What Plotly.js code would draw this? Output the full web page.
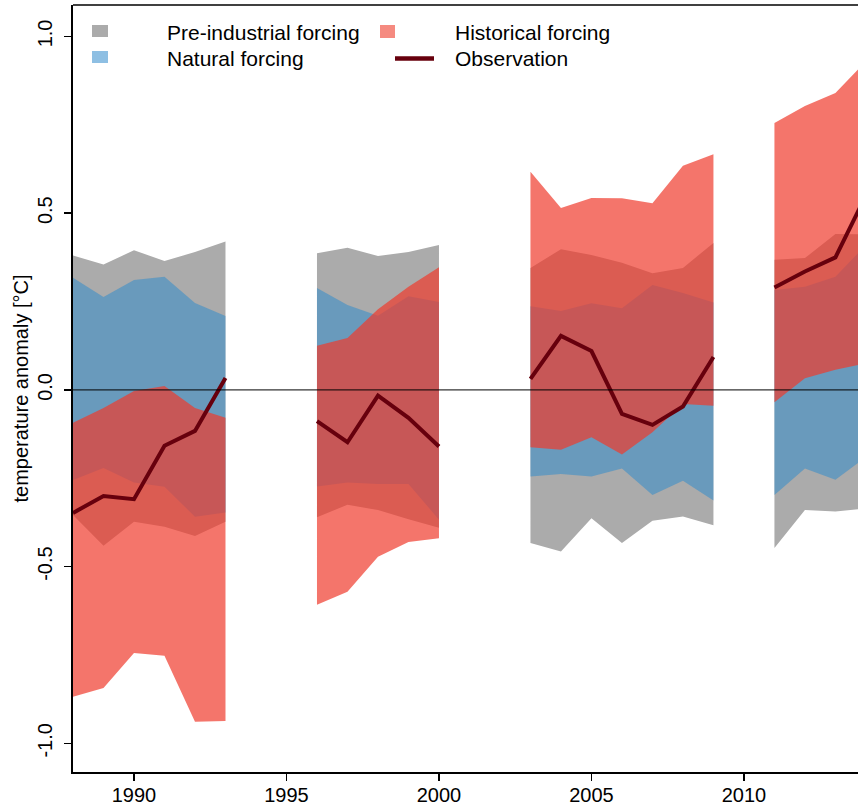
<!DOCTYPE html>
<html>
<head>
<meta charset="utf-8">
<script src="https://cdn.plot.ly/plotly-3.0.1.min.js"></script>
<style>html,body{margin:0;padding:0;background:#fff;}#chart{width:858px;height:806px;}</style>
</head>
<body>
<div id="chart"></div>
<script>
// ---- data ----
const years = [1988,1989,1990,1991,1992,1993,1994,1995,1996,1997,1998,1999,2000,2001,2002,2003,2004,2005,2006,2007,2008,2009,2010,2011,2012,2013,2014];

const preUpper  = [0.380,0.355,0.395,0.365,0.390,0.420,null,null,0.387,0.402,0.379,0.390,0.410,null,null,0.345,0.398,0.382,0.360,0.330,0.345,0.416,null,0.368,0.373,0.441,0.440];
const preLower  = [-0.354,-0.441,-0.373,-0.387,-0.413,-0.373,null,null,-0.360,-0.325,-0.340,-0.366,-0.390,null,null,-0.433,-0.457,-0.363,-0.433,-0.370,-0.358,-0.383,null,-0.447,-0.340,-0.344,-0.335];

const natUpper  = [0.317,0.263,0.311,0.320,0.246,0.209,null,null,0.288,0.240,0.210,0.265,0.249,null,null,0.237,0.223,0.245,0.231,0.297,0.274,0.247,null,0.283,0.292,0.320,0.410];
const natLower  = [-0.255,-0.221,-0.262,-0.274,-0.359,-0.347,null,null,-0.273,-0.262,-0.266,-0.266,-0.367,null,null,-0.245,-0.238,-0.245,-0.222,-0.297,-0.257,-0.313,null,-0.297,-0.222,-0.254,-0.190];

const histUpper = [-0.093,-0.051,-0.003,0.011,-0.051,-0.079,null,null,0.125,0.147,0.228,0.292,0.347,null,null,0.617,0.515,0.543,0.542,0.528,0.634,0.667,null,0.755,0.803,0.840,0.930];
const histLower = [-0.868,-0.843,-0.744,-0.752,-0.939,-0.937,null,null,-0.608,-0.571,-0.472,-0.430,-0.420,null,null,-0.162,-0.169,-0.134,-0.183,-0.120,-0.040,-0.045,null,-0.035,0.033,0.057,0.075];

const observation = [-0.348,-0.300,-0.309,-0.158,-0.116,0.034,null,null,-0.088,-0.148,-0.016,-0.079,-0.160,null,null,0.031,0.153,0.110,-0.068,-0.099,-0.047,0.093,null,0.290,0.335,0.375,0.550];

const xTicks = [1990,1995,2000,2005,2010];
const yTicks = [-1.0,-0.5,0.0,0.5,1.0];
const yTickText = ["-1.0","-0.5","0.0","0.5","1.0"];

const legendNames = ["Pre-industrial forcing","Natural forcing","Historical forcing","Observation"];

// ---- styling ----
const colPre  = "rgb(171,171,171)";
const colNat  = "rgba(39,137,205,0.5)";
const colHist = "rgba(239,59,44,0.7)";
const colObs  = "#67000D";

// find contiguous runs of non-null values
function runs(arr){
  const out=[]; let s=null;
  for(let i=0;i<arr.length;i++){
    if(arr[i]!==null && s===null) s=i;
    if((arr[i]===null || i===arr.length-1) && s!==null){
      const e = arr[i]===null ? i-1 : i;
      out.push([s,e]); s=null;
    }
  }
  return out;
}

function bandTraces(upper, lower, color){
  return runs(upper).map(([s,e])=>{
    const xs = years.slice(s,e+1), up = upper.slice(s,e+1), lo = lower.slice(s,e+1);
    return {
      x: xs.concat(xs.slice().reverse()),
      y: up.concat(lo.slice().reverse()),
      type:"scatter", mode:"lines", fill:"toself", fillcolor:color,
      line:{width:0, color:color}, hoverinfo:"skip", showlegend:false
    };
  });
}

const traces = [].concat(
  bandTraces(preUpper, preLower, colPre),
  bandTraces(natUpper, natLower, colNat),
  bandTraces(histUpper, histLower, colHist),
  [{x:years, y:observation, type:"scatter", mode:"lines", connectgaps:false,
    line:{color:colObs, width:4}, hoverinfo:"skip", showlegend:false}]
);

// pixel helpers for legend placement (plot area: x 73..858, y 5..772)
const L=73, R=858, T=5, B=772;
const px = v => (v-L)/(R-L);
const py = v => (B-v)/(B-T);

const font = "Liberation Sans, Arial, Helvetica, sans-serif";

const shapes = [
  {type:"line", xref:"paper", yref:"y", x0:0, x1:1, y0:0, y1:0, line:{color:"black", width:1}, layer:"above"},
  {type:"line", xref:"paper", yref:"paper", x0:0, x1:1, y0:1, y1:1, line:{color:"black", width:1.5}, layer:"above"},
  // legend keys
  {type:"rect", xref:"paper", yref:"paper", x0:px(92), x1:px(108), y0:py(37), y1:py(25), fillcolor:"#ABABAB", line:{width:0}},
  {type:"rect", xref:"paper", yref:"paper", x0:px(92), x1:px(108), y0:py(63), y1:py(51), fillcolor:"#8EBFE3", line:{width:0}},
  {type:"rect", xref:"paper", yref:"paper", x0:px(380), x1:px(395), y0:py(38), y1:py(25), fillcolor:"#F58A80", line:{width:0}},
  {type:"line", xref:"paper", yref:"paper", x0:px(395), x1:px(434), y0:py(58.5), y1:py(58.5), line:{color:colObs, width:4.5}}
];

const annotations = [
  [165,33,legendNames[0]],[165,58,legendNames[1]],[453,33,legendNames[2]],[453,58,legendNames[3]]
].map(([x,y,t])=>({xref:"paper", yref:"paper", x:px(x), y:py(y), text:t, showarrow:false,
   xanchor:"left", yanchor:"middle", font:{family:font, size:21, color:"black"}}));

const layout = {
  width:858, height:806,
  margin:{l:L, r:0, t:T, b:806-B},
  paper_bgcolor:"white", plot_bgcolor:"white",
  font:{family:font, color:"black"},
  showlegend:false,
  xaxis:{range:[1988, 2013.74], tickvals:xTicks, ticks:"outside", ticklen:7, tickwidth:1.5, tickcolor:"black",
         showline:true, linewidth:2, linecolor:"black", showgrid:false, zeroline:false,
         tickfont:{size:20, family:font}, ticklabelstandoff:-3},
  yaxis:{range:[-1.081, 1.089], tickvals:yTicks, ticktext:yTickText, tickangle:-90,
         ticks:"outside", ticklen:7, tickwidth:1.5, tickcolor:"black",
         showline:true, linewidth:2, linecolor:"black", showgrid:false, zeroline:false,
         tickfont:{size:20, family:font}, ticklabelstandoff:4,
         title:{text:"temperature anomaly [°C]", font:{size:20, family:font}, standoff:0}},
  shapes:shapes, annotations:annotations
};

Plotly.newPlot("chart", traces, layout, {displayModeBar:false, staticPlot:true});
</script>
</body>
</html>
